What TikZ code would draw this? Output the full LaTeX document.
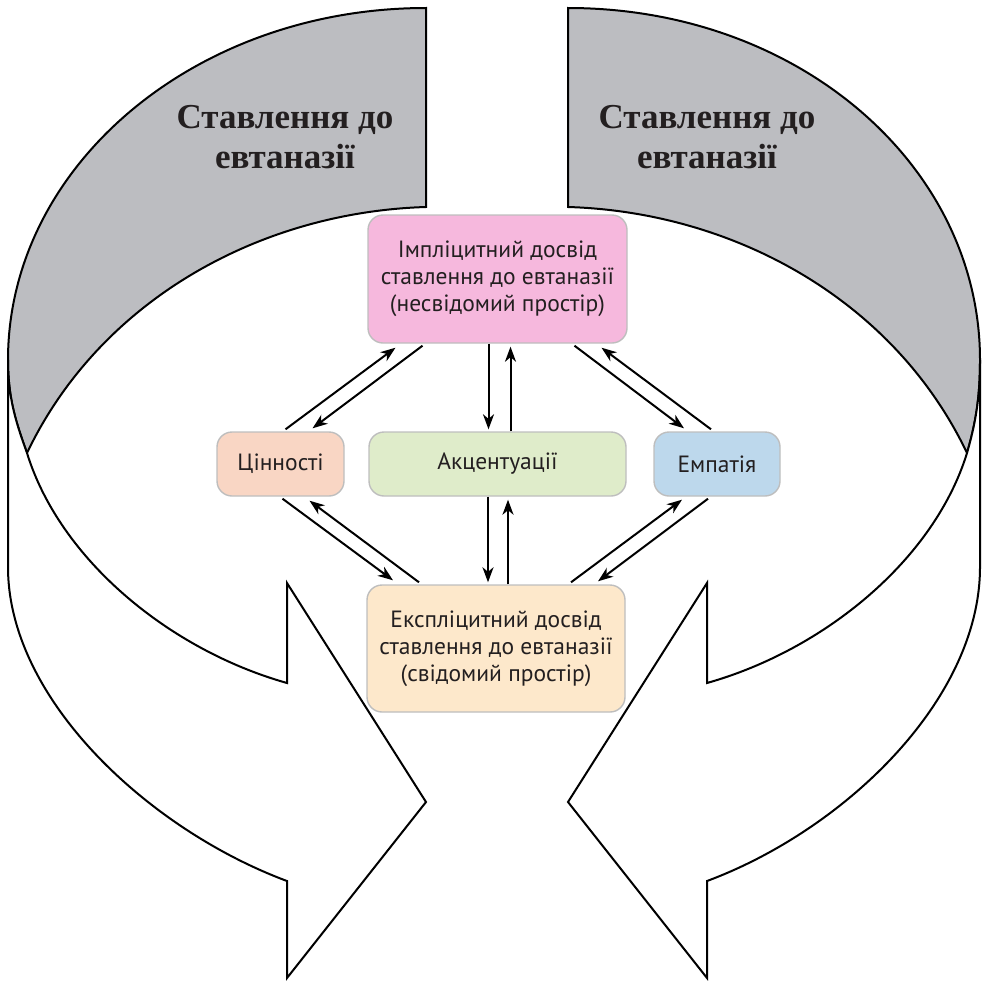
\documentclass[tikz,border=0pt]{standalone}
\usepackage{fontspec}
\setmainfont{Liberation Serif}
\newfontfamily\boxfont{PT Sans}
\usepackage{tikz}
\usetikzlibrary{arrows.meta}

\definecolor{ink}{HTML}{231F20}
\definecolor{bandgray}{HTML}{BCBDC1}
\definecolor{boxgray}{HTML}{BEBEBE}
\definecolor{implpink}{HTML}{F6B8DD}
\definecolor{valpeach}{HTML}{F9D6C4}
\definecolor{accgreen}{HTML}{DFECCA}
\definecolor{empblue}{HTML}{BDD8EC}
\definecolor{explcream}{HTML}{FDE8CB}

\begin{document}
\begin{tikzpicture}[x=1pt,y=-1pt,
  box/.style={draw=boxgray, line width=1.4pt, rounded corners=15pt, text=ink,
    font=\boxfont\fontsize{23.5}{27}\selectfont, align=center, inner sep=0pt},
  arr/.style={-{Stealth[length=15pt,width=11pt,inset=4.5pt]}, line width=2pt},
  band/.style={fill=bandgray, draw=black, line width=2pt},
  turn/.style={fill=white, draw=black, line width=2pt},
  title/.style={text=ink, font=\bfseries\fontsize{35}{40}\selectfont, align=center, inner sep=0pt}]
\useasboundingbox (0,0) rectangle (982,980);

% left ribbon
\draw[band] (426,8) -- (426,207) .. controls (260,212) and (100,300) .. (27,453)
  .. controls (17,425) and (8,400) .. (8,360) .. controls (8,166) and (195,8) .. (426,8) -- cycle;
\draw[turn] (8,360) -- (8,567) .. controls (8,700) and (150,830) .. (287,881) -- (287,978)
  -- (426,802) -- (287,583) -- (287,683) .. controls (170,650) and (60,560) .. (27,453)
  .. controls (17,425) and (8,400) .. (8,360) -- cycle;

% right ribbon
\draw[band] (568,8) -- (568,207) .. controls (734,212) and (894,300) .. (967,453)
  .. controls (975,425) and (980,400) .. (980,360) .. controls (980,166) and (799,8) .. (568,8) -- cycle;
\draw[turn] (980,360) -- (980,567) .. controls (980,700) and (844,830) .. (707,881) -- (707,978)
  -- (568,802) -- (707,583) -- (707,683) .. controls (824,650) and (934,560) .. (967,453)
  .. controls (975,425) and (980,400) .. (980,360) -- cycle;

\node[title] (attl) at (285,137) {Ставлення до\\евтаназії};
\node[title] (attr) at (707,137) {Ставлення до\\евтаназії};

% boxes
\node[box, fill=implpink, minimum width=259pt, minimum height=128pt] (impl) at (497.5,279)
  {Імпліцитний досвід\\ставлення до евтаназії\\(несвідомий простір)};
\node[box, fill=valpeach, minimum width=127pt, minimum height=64pt] (val) at (280.5,464) {Цінності};
\node[box, fill=accgreen, minimum width=257pt, minimum height=64pt] (acc) at (497.5,464) {Акцентуації};
\node[box, fill=empblue, minimum width=126pt, minimum height=64pt] (emp) at (717,464) {Емпатія};
\node[box, fill=explcream, minimum width=258pt, minimum height=127pt] (expl) at (496,648.5)
  {Експліцитний досвід\\ставлення до евтаназії\\(свідомий простір)};

% arrows, upper half
\draw[arr] ([xshift=5pt,yshift=2pt]val.north) -- ([xshift=-102pt,yshift=-4pt]impl.south);
\draw[arr] ([xshift=-75pt,yshift=-2pt]impl.south) -- ([xshift=32pt,yshift=3pt]val.north);
\draw[arr] ([xshift=-9pt]impl.south) -- ([xshift=-9pt,yshift=2pt]acc.north);
\draw[arr] ([xshift=13pt]acc.north) -- ([xshift=13pt,yshift=-3pt]impl.south);
\draw[arr] ([xshift=77pt,yshift=-2pt]impl.south) -- ([xshift=-33pt,yshift=3pt]emp.north);
\draw[arr] ([xshift=-6pt,yshift=2pt]emp.north) -- ([xshift=104pt,yshift=-4pt]impl.south);

% arrows, lower half
\draw[arr] ([xshift=2pt,yshift=-2pt]val.south) -- ([xshift=-103pt,yshift=4pt]expl.north);
\draw[arr] ([xshift=-77pt,yshift=2pt]expl.north) -- ([xshift=29pt,yshift=-4pt]val.south);
\draw[arr] ([xshift=-9.5pt]acc.south) -- ([xshift=-8pt,yshift=2pt]expl.north);
\draw[arr] ([xshift=12pt]expl.north) -- ([xshift=10.5pt,yshift=-3pt]acc.south);
\draw[arr] ([xshift=75pt,yshift=2pt]expl.north) -- ([xshift=-35pt,yshift=-3pt]emp.south);
\draw[arr] ([xshift=-9pt,yshift=-2pt]emp.south) -- ([xshift=102pt,yshift=3pt]expl.north);
\end{tikzpicture}
\end{document}
